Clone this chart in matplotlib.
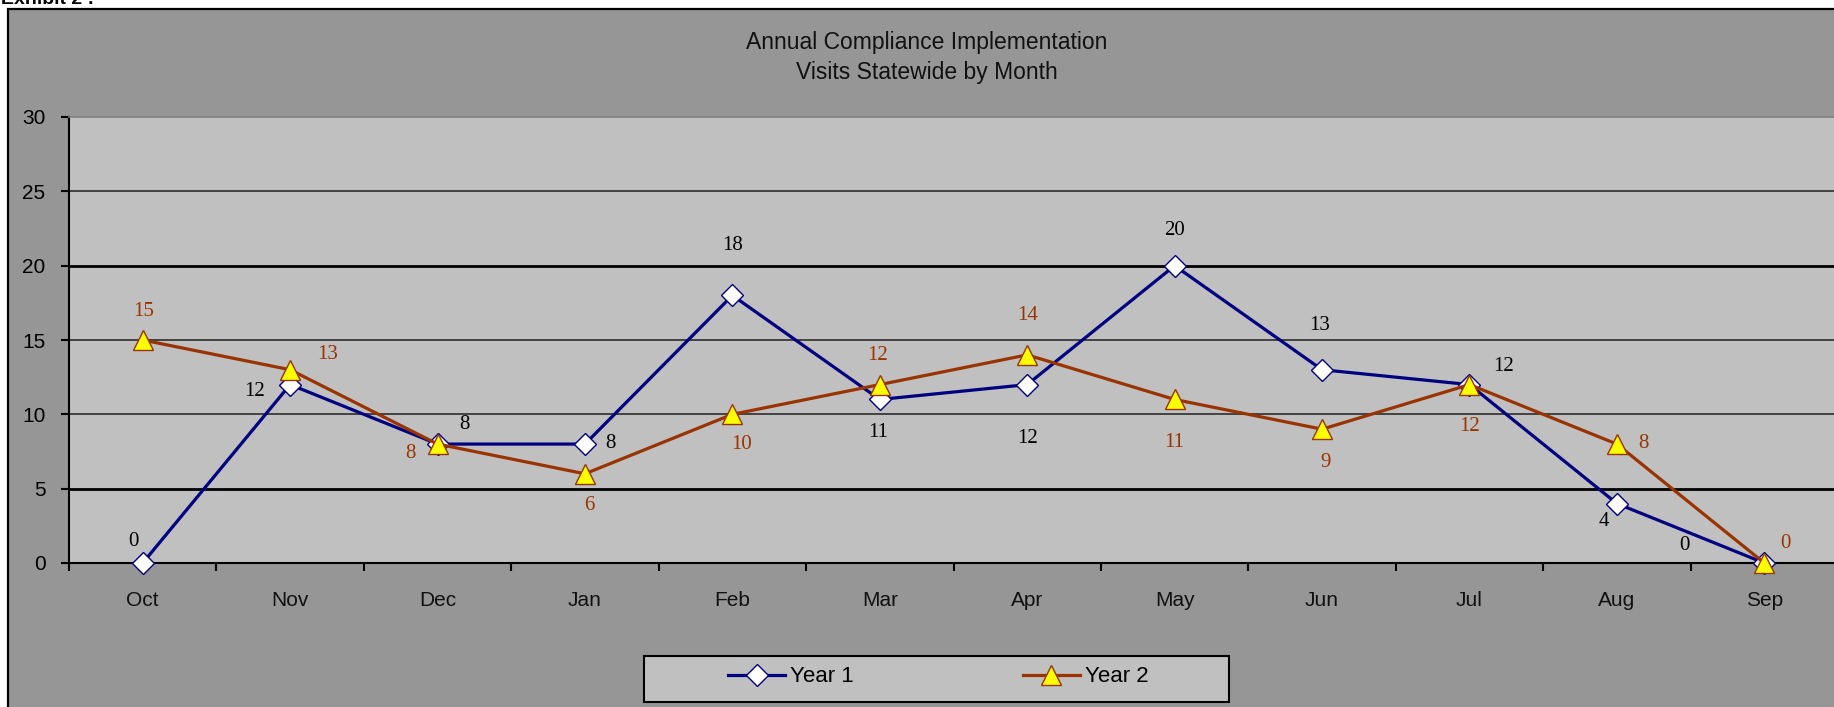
import matplotlib
matplotlib.use("Agg")
import matplotlib.pyplot as plt
from matplotlib.patches import Rectangle

months = ["Oct", "Nov", "Dec", "Jan", "Feb", "Mar", "Apr", "May", "Jun", "Jul", "Aug", "Sep"]
year1 = [0, 12, 8, 8, 18, 11, 12, 20, 13, 12, 4, 0]
year2 = [15, 13, 8, 6, 10, 12, 14, 11, 9, 12, 8, 0]
yticks = [0, 5, 10, 15, 20, 25, 30]
title_lines = ["Annual Compliance Implementation", "Visits Statewide by Month"]
series_names = ["Year 1", "Year 2"]

# label offsets in pixels (placement only)
off1 = [(-9, 21), (-36, -7), (27, 20), (25, 1), (0, 50), (-2, -33), (0, -54),
        (0, 35), (-2, 44), (34, 18), (-13, -18), (-80, 18)]
off2 = [(1, 28), (37, 15), (-27, -9), (4, -32), (9, -30), (-2, 29), (0, 39),
        (0, -43), (4, -33), (0, -42), (27, 1), (21, 20)]

W, H = 1834, 707
fig = plt.figure(figsize=(W / 100, H / 100), dpi=100, facecolor="white")

sans = ["Liberation Sans", "DejaVu Sans"]
serif = ["Liberation Serif", "DejaVu Serif"]

# chart area
fig.add_artist(Rectangle((8 / W, -0.1), 1.1, 1 - 9 / H + 0.1, transform=fig.transFigure,
                         facecolor="#969696", edgecolor="black", lw=1.6, zorder=-10))
fig.text(1 / W, 1 - 4 / H, "Exhibit 2 :", fontsize=14, fontweight="bold", family=sans,
         ha="left", va="baseline")

ax = fig.add_axes([69 / W, 144 / H, 1769 / W, 446 / H])
ax.set_facecolor("#C0C0C0")
ax.set_xlim(-0.5, 11.5)
ax.set_ylim(0, 30)
x = list(range(len(months)))

for y in yticks[1:-1]:
    if y in (5, 20):
        ax.axhline(y, color="black", lw=2.0, zorder=1)
    else:
        ax.axhline(y, color="#202020", lw=1.1, zorder=1)

l1, = ax.plot(x, year1, color="#000080", lw=2.3, marker="D", ms=11, mfc="white",
              mec="#000080", mew=1.0, zorder=3, clip_on=False)
l2, = ax.plot(x, year2, color="#993300", lw=2.3, marker="^", ms=14, mfc="#FFFF00",
              mec="#993300", mew=1.0, zorder=4, clip_on=False)

for xi, v, o in zip(x, year1, off1):
    ax.annotate(str(v), (xi, v), xytext=o, textcoords="offset pixels", ha="center",
                va="center", fontsize=15, family=serif, color="black", zorder=5)
for xi, v, o in zip(x, year2, off2):
    ax.annotate(str(v), (xi, v), xytext=o, textcoords="offset pixels", ha="center",
                va="center", fontsize=15, family=serif, color="#993300", zorder=5)

for s in ("left", "bottom"):
    ax.spines[s].set_color("black")
    ax.spines[s].set_linewidth(1.5)
ax.spines["top"].set_color("#808080")
ax.spines["top"].set_linewidth(1.2)
ax.spines["right"].set_visible(False)

ax.set_yticks(yticks)
ax.set_yticklabels([str(t) for t in yticks], family=sans, fontsize=15, color="#111111")
ax.tick_params(axis="y", length=6, width=1.5, direction="out", pad=11, colors="black")
ax.set_xticks(x)
ax.set_xticklabels(months, family=sans, fontsize=15, color="#111111")
ax.tick_params(axis="x", which="major", length=0, pad=20)
ax.set_xticks([i - 0.5 for i in range(len(months) + 1)], minor=True)
ax.tick_params(axis="x", which="minor", length=6, width=1.5, direction="out")

fig.text(927 / W, 1 - 42 / H, title_lines[0], ha="center", va="center", fontsize=16.5, family=sans,
         color="#111111")
fig.text(927 / W, 1 - 72 / H, title_lines[1], ha="center", va="center", fontsize=16.5, family=sans,
         color="#111111")

# legend
fig.add_artist(Rectangle((644 / W, 1 - 702 / H), 585 / W, 46 / H, transform=fig.transFigure,
                         facecolor="#C0C0C0", edgecolor="black", lw=1.5, zorder=5))
leg = fig.legend([l1, l2], series_names, loc="center", bbox_to_anchor=(938 / W, 1 - 677 / H),
                 ncol=2, frameon=False, prop={"family": sans, "size": 16}, handlelength=2.6,
                 handletextpad=0.2, columnspacing=7.6)
leg.set_zorder(6)

fig.savefig("out.png", dpi=100, facecolor="white")
